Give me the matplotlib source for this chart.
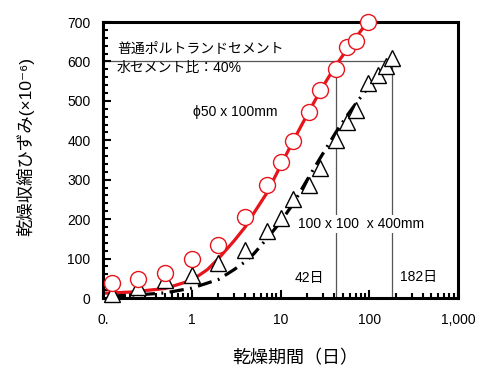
import matplotlib
matplotlib.use("Agg")
import matplotlib.pyplot as plt
from matplotlib.ticker import FixedLocator, LogLocator, MultipleLocator, NullFormatter

plt.rcParams["font.family"] = ["Liberation Sans", "Noto Sans CJK JP", "DejaVu Sans"]

# measured points, phi50 x 100mm (circles)
days_small = [0.125, 0.25, 0.5, 1, 2, 4, 7, 10, 14, 21, 28, 42, 56, 70, 98]
strain_small = [38, 47, 63, 98, 134, 206, 287, 346, 397, 473, 528, 581, 636, 651, 700]

# measured points, 100 x 100 x 400mm (triangles)
days_large = [0.125, 0.25, 0.5, 1, 2, 4, 7, 10, 14, 21, 28, 42, 56, 70, 98, 126, 154, 182]
strain_large = [10, 29, 45, 58, 88, 123, 171, 202, 251, 287, 329, 401, 447, 477, 545, 566, 588, 608]

# fitted curves
fit_small_days = [0.1, 0.2, 0.5, 1, 1.5, 2, 3, 4, 5, 7, 10, 14, 20, 28, 42, 56, 70, 100, 110]
fit_small_val = [12, 15, 24, 45, 72, 100, 145, 180, 215, 266, 335, 400, 465, 525, 590, 630, 660, 705, 718]

fit_large_days = [0.125, 0.25, 0.5, 1, 2, 3, 4, 5, 7, 10, 14, 20, 28, 42, 56, 70, 98, 126, 154, 182]
fit_large_val = [5, 8, 13, 25, 47, 72, 92, 112, 150, 193, 240, 300, 355, 420, 462, 492, 535, 560, 578, 592]

x_ticks = [0.1, 1, 10, 100, 1000]
x_tick_labels = ["0.", "1", "10", "100", "1,000"]

fig = plt.figure(figsize=(4.81, 3.72), dpi=100)
ax = fig.add_axes([103 / 481, 1 - 298 / 372, 355 / 481, 276 / 372])

# guide lines at 600 and at 42 / 182 days
ax.plot([0.1, 182], [600, 600], color="#555555", lw=0.9, zorder=1)
ax.plot([42, 42], [0, 600], color="#555555", lw=0.9, zorder=1)
ax.plot([182, 182], [0, 600], color="#555555", lw=0.9, zorder=1)

ax.plot(fit_small_days, fit_small_val, color="#e8141c", lw=2.3, zorder=2)
ax.plot(fit_large_days, fit_large_val, color="black", lw=2.3,
        linestyle=(0, (4.5, 2.0, 0.6, 2.0)), zorder=2)

ax.plot(days_small, strain_small, linestyle="none", marker="o", ms=11.5,
        mfc="white", mec="#e8141c", mew=1.0, zorder=4, clip_on=False)
ax.plot(days_large, strain_large, linestyle="none", marker="^", ms=12,
        mfc="white", mec="black", mew=1.0, zorder=3, clip_on=False)

ax.set_xscale("log")
ax.set_xlim(0.1, 1000)
ax.set_ylim(0, 700)
ax.xaxis.set_major_locator(FixedLocator(x_ticks))
ax.set_xticklabels(x_tick_labels)
ax.xaxis.set_minor_locator(LogLocator(base=10, subs=range(2, 10)))
ax.xaxis.set_minor_formatter(NullFormatter())
ax.yaxis.set_major_locator(MultipleLocator(100))
ax.yaxis.set_minor_locator(MultipleLocator(20))

ax.tick_params(which="both", direction="in", top=False, right=False, width=1.5,
               labelsize=10)
ax.tick_params(which="major", length=6)
ax.tick_params(which="minor", length=3.5)
ax.tick_params(axis="x", pad=11)
ax.tick_params(axis="y", pad=9)
for sp in ax.spines.values():
    sp.set_linewidth(2.2)

ax.text(0.144, 632, "普通ポルトランドセメント", fontsize=10, va="center")
ax.text(0.144, 584, "水セメント比：40%", fontsize=10, va="center")
ax.text(1.03, 472, "ϕ50 x 100mm", fontsize=10, va="center")
ax.text(15.7, 188, "100 x 100  x 400mm", fontsize=10, va="center", zorder=5,
        bbox=dict(facecolor="white", edgecolor="none", pad=1.5))
ax.text(14.5, 51, "42日", fontsize=10, va="center")
ax.text(222, 53, "182日", fontsize=10, va="center")

fig.text(295 / 481, 1 - 358 / 372, "乾燥期間（日）", fontsize=13, ha="center", va="center",
         family=["Noto Sans CJK JP", "DejaVu Sans"])
fig.text(25 / 481, 1 - 147 / 372, "乾燥収縮ひずみ(×10⁻⁶)", fontsize=12.5,
         rotation=90, ha="center", va="center")

fig.savefig("out.png", dpi=100)
